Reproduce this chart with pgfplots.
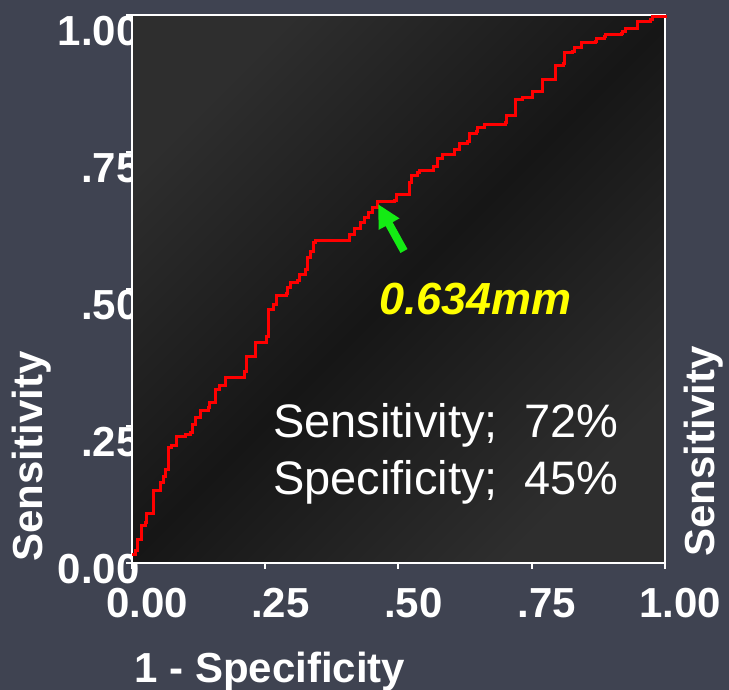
\documentclass[border=0pt]{standalone}
\usepackage{fontspec}
\setmainfont{Liberation Sans}
\usepackage{pgfplots}
\pgfplotsset{compat=1.18}
\usetikzlibrary{arrows.meta}

\definecolor{slate}{RGB}{63,67,81}
\definecolor{panelEdge}{RGB}{46,46,46}
\definecolor{panelMid}{RGB}{22,22,22}
\definecolor{rocRed}{RGB}{255,0,0}
\definecolor{arrowGreen}{RGB}{20,235,20}
\definecolor{cutYellow}{RGB}{255,255,0}

\pgfplotsset{
  rocframe/.style={
    at={(66pt,63.5pt)}, anchor=south west,
    scale only axis, width=266.5pt, height=274pt,
    xmin=0, xmax=1, ymin=0, ymax=1,
    xtick={0,0.25,0.5,0.75,1}, ytick={0,0.25,0.5,0.75,1},
    tick align=outside, tick pos=left,
  },
}

\begin{document}
\begin{tikzpicture}
\path[use as bounding box] (0,0) rectangle (364.5pt,345pt);
\clip (0,0) rectangle (364.5pt,345pt);
\fill[slate] (0,0) rectangle (364.5pt,345pt);

% tick labels first, so the dark panel drawn next overlaps their right ends
\begin{axis}[rocframe,
  axis line style={draw=none}, major tick style={draw=none}, major tick length=0pt,
  xticklabels={0.00,.25,.50,.75,1.00},
  yticklabels={\raisebox{5pt}{0.00},.25,.50,.75,1.00},
  ticklabel style={font=\fontsize{21pt}{25pt}\selectfont\bfseries, text=white, inner sep=0pt},
  xticklabel style={anchor=north, yshift=-12.5pt, xshift=7.5pt},
  yticklabel style={anchor=base east, xshift=4pt, yshift=-15.5pt},
]
\end{axis}

% ROC panel
\begin{axis}[rocframe, clip=false,
  axis background/.style={top color=panelEdge, bottom color=panelEdge, middle color=panelMid, shading angle=45},
  axis line style={white, line width=1pt},
  major tick style={white, line width=1pt}, major tick length=3pt,
  xticklabel=\empty, yticklabel=\empty,
  label style={font=\fontsize{21pt}{25pt}\selectfont\bfseries, text=white, inner sep=0pt},
  xlabel={1 - Specificity},
  xlabel style={at={(rel axis cs:0.004,-0.2172)}, anchor=base west},
  ylabel={Sensitivity},
  ylabel style={at={(rel axis cs:-0.167,0.0018)}, anchor=base west},
]
\addplot[const plot, rocRed, line width=1.5pt] coordinates {
(0,0.015)(0.006,0.022)(0.011,0.042)(0.017,0.042)(0.017,0.069)(0.026,0.073)(0.028,0.091)(0.041,0.091)
(0.041,0.133)(0.053,0.133)(0.054,0.146)(0.060,0.157)(0.062,0.170)(0.069,0.173)(0.069,0.210)(0.075,0.214)
(0.083,0.219)(0.083,0.230)(0.101,0.234)(0.109,0.239)(0.114,0.252)(0.120,0.265)(0.128,0.279)(0.143,0.283)
(0.146,0.292)(0.156,0.303)(0.156,0.316)(0.165,0.323)(0.175,0.338)(0.203,0.338)(0.212,0.349)(0.214,0.376)
(0.231,0.376)(0.231,0.402)(0.250,0.402)(0.253,0.414)(0.257,0.414)(0.257,0.462)(0.265,0.471)(0.272,0.489)
(0.289,0.491)(0.291,0.502)(0.298,0.511)(0.311,0.515)(0.315,0.526)(0.325,0.535)(0.330,0.558)(0.334,0.568)
(0.340,0.584)(0.345,0.588)(0.405,0.588)(0.409,0.599)(0.418,0.611)(0.428,0.622)(0.437,0.631)(0.443,0.639)
(0.452,0.648)(0.460,0.659)(0.493,0.662)(0.497,0.672)(0.518,0.672)(0.520,0.695)(0.525,0.708)(0.535,0.712)
(0.540,0.717)(0.565,0.723)(0.572,0.723)(0.574,0.739)(0.582,0.745)(0.602,0.746)(0.606,0.754)(0.612,0.754)
(0.615,0.766)(0.630,0.770)(0.634,0.783)(0.647,0.787)(0.649,0.794)(0.662,0.801)(0.700,0.803)(0.702,0.816)
(0.719,0.816)(0.719,0.845)(0.732,0.850)(0.751,0.856)(0.752,0.861)(0.769,0.861)(0.771,0.883)(0.794,0.885)
(0.794,0.907)(0.809,0.911)(0.811,0.931)(0.827,0.933)(0.831,0.940)(0.844,0.942)(0.844,0.949)(0.869,0.951)
(0.872,0.958)(0.887,0.960)(0.889,0.964)(0.919,0.967)(0.921,0.969)(0.925,0.976)(0.948,0.978)(0.948,0.989)
(0.972,0.991)(0.976,0.998)(1.000,1.000)
};
% cut-off pointer and summary
\draw[arrowGreen, line width=4pt, -{Triangle[length=11.5pt,width=11pt]}]
  (axis cs:0.5103,0.5693) -- (axis cs:0.4615,0.6551);
\node[anchor=base west, inner sep=0pt, text=cutYellow,
  font=\fontsize{22.5pt}{27pt}\selectfont\bfseries\itshape] at (axis cs:0.4634,0.4526) {0.634mm};
\node[anchor=base west, inner sep=0pt, text=white,
  font=\fontsize{23.5pt}{28pt}\selectfont] at (axis cs:0.2645,0.2299) {Sensitivity;\ \ 72\%};
\node[anchor=base west, inner sep=0pt, text=white,
  font=\fontsize{23.5pt}{28pt}\selectfont] at (axis cs:0.2645,0.1259) {Specificity;\ \ 45\%};
\node[rotate=90, anchor=base west, inner sep=0pt, text=white,
  font=\fontsize{21pt}{25pt}\selectfont\bfseries] at (rel axis cs:1.0938,0.011) {Sensitivity};
\end{axis}
\end{tikzpicture}
\end{document}
